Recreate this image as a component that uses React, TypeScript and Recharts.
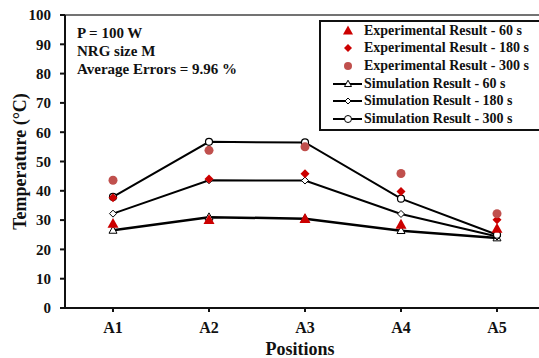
import { ComposedChart, Line, XAxis, YAxis, ReferenceLine } from "recharts";

const positions = ["A1", "A2", "A3", "A4", "A5"];
const yTicks = [0, 10, 20, 30, 40, 50, 60, 70, 80, 90, 100];

const exp60 = [28.7, 30.0, 30.4, 28.4, 27.0];
const exp180 = [37.6, 44.0, 45.8, 39.8, 30.1];
const exp300 = [43.6, 53.8, 55.0, 45.9, 32.2];
const sim60 = [26.5, 31.0, 30.5, 26.4, 23.9];
const sim180 = [32.2, 43.6, 43.5, 32.1, 24.4];
const sim300 = [37.9, 56.7, 56.5, 37.3, 25.0];

const notes = ["P = 100 W", "NRG size M", "Average Errors = 9.96 %"];

const data = positions.map((p, i) => ({
  pos: p,
  exp60: exp60[i],
  exp180: exp180[i],
  exp300: exp300[i],
  sim60: sim60[i],
  sim180: sim180[i],
  sim300: sim300[i]
}));

const FONT = "'Liberation Serif', 'Times New Roman', serif";
const RED = "#cc0000";
const BROWN = "#c0504d";

type Shape = "triangle" | "diamond" | "circle";

function marker(shape: Shape, x: number, y: number, size: number, fill: string, stroke: string, sw: number, key?: string) {
  if (shape === "triangle") {
    const h = size * 0.9;
    return (
      <polygon
        key={key}
        points={`${x},${y - h * 0.6} ${x - size / 2},${y + h * 0.4} ${x + size / 2},${y + h * 0.4}`}
        fill={fill}
        stroke={stroke}
        strokeWidth={sw}
      />
    );
  }
  if (shape === "diamond") {
    const r = size / 2;
    return (
      <polygon
        key={key}
        points={`${x},${y - r} ${x + r},${y} ${x},${y + r} ${x - r},${y}`}
        fill={fill}
        stroke={stroke}
        strokeWidth={sw}
      />
    );
  }
  return <circle key={key} cx={x} cy={y} r={size / 2} fill={fill} stroke={stroke} strokeWidth={sw} />;
}

const dotFn = (shape: Shape, size: number, fill: string, stroke: string, sw: number) => (props: any) => {
  const { cx, cy, index } = props;
  if (cx == null || cy == null) return <g key={`n${index}`} />;
  return marker(shape, cx, cy, size, fill, stroke, sw, `${shape}-${index}-${fill}`);
};

const legendItems = [
  { name: "Experimental Result - 60 s", shape: "triangle" as Shape, fill: RED, stroke: "none", line: false, size: 10 },
  { name: "Experimental Result - 180 s", shape: "diamond" as Shape, fill: RED, stroke: "none", line: false, size: 8 },
  { name: "Experimental Result - 300 s", shape: "circle" as Shape, fill: BROWN, stroke: "none", line: false, size: 8 },
  { name: "Simulation Result - 60 s", shape: "triangle" as Shape, fill: "#fff", stroke: "#000", line: true, size: 7 },
  { name: "Simulation Result - 180 s", shape: "diamond" as Shape, fill: "#fff", stroke: "#000", line: true, size: 6 },
  { name: "Simulation Result - 300 s", shape: "circle" as Shape, fill: "#fff", stroke: "#000", line: true, size: 7 }
];

function LegendBox() {
  return (
    <div
      style={{
        position: "absolute",
        left: 319,
        top: 20,
        border: "2px solid #111",
        background: "#fff",
        width: 232,
        padding: "0 0 1px 0",
        fontFamily: FONT,
        fontWeight: "bold",
        fontSize: 14,
        color: "#111"
      }}
    >
      {legendItems.map((it) => (
        <div key={it.name} style={{ display: "flex", alignItems: "center", height: 17.6 }}>
          <svg width={43} height={16} style={{ flex: "none" }}>
            {it.line ? <line x1={12} y1={8} x2={41} y2={8} stroke="#000" strokeWidth={2} /> : null}
            {marker(it.shape, 27, 8, it.size, it.fill, it.stroke, 1)}
          </svg>
          <span style={{ whiteSpace: "nowrap" }}>{it.name}</span>
        </div>
      ))}
    </div>
  );
}

export default function App() {
  return (
    <div style={{ position: "absolute", left: 0, top: 0, width: 539, height: 358, overflow: "hidden", background: "#fff" }}>
      <ComposedChart width={560} height={358} data={data} margin={{ top: 15, right: 15, bottom: 0, left: 0 }}>
        <XAxis
          dataKey="pos"
          height={50}
          padding={{ left: 48, right: 48 }}
          stroke="#111"
          strokeWidth={2}
          tickSize={4}
          tickMargin={10}
          tick={{ fill: "#111", fontFamily: FONT, fontWeight: "bold", fontSize: 16 }}
          label={{ value: "Positions", position: "insideBottom", offset: 3, dx: -5, fill: "#111", fontFamily: FONT, fontWeight: "bold", fontSize: 18 }}
        />
        <YAxis
          width={65}
          domain={[0, 100]}
          ticks={yTicks}
          interval={0}
          stroke="#111"
          strokeWidth={2}
          tickSize={5}
          tickMargin={9}
          tick={{ fill: "#111", fontFamily: FONT, fontWeight: "bold", fontSize: 15 }}
          label={{
            value: "Temperature  (°C)",
            angle: -90,
            position: "insideLeft",
            offset: 20,
            style: { textAnchor: "middle" },
            fill: "#111",
            fontFamily: FONT,
            fontWeight: "bold",
            fontSize: 18
          }}
        />
        <ReferenceLine y={100} stroke="#444" strokeWidth={1.5} />
        <Line dataKey="sim60" stroke="#000" strokeWidth={2.5} isAnimationActive={false} dot={dotFn("triangle", 8, "#fff", "#000", 1)} activeDot={false} />
        <Line dataKey="sim180" stroke="#000" strokeWidth={2} isAnimationActive={false} dot={dotFn("diamond", 7, "#fff", "#000", 1)} activeDot={false} />
        <Line dataKey="sim300" stroke="#000" strokeWidth={2} isAnimationActive={false} dot={dotFn("circle", 7, "#fff", "#000", 1.2)} activeDot={false} />
        <Line dataKey="exp60" stroke="none" isAnimationActive={false} dot={dotFn("triangle", 11, RED, "none", 0)} activeDot={false} />
        <Line dataKey="exp180" stroke="none" isAnimationActive={false} dot={dotFn("diamond", 9, RED, "none", 0)} activeDot={false} />
        <Line dataKey="exp300" stroke="none" isAnimationActive={false} dot={dotFn("circle", 9, BROWN, "none", 0)} activeDot={false} />
      </ComposedChart>
      <LegendBox />
      <div
        style={{
          position: "absolute",
          left: 77,
          top: 24,
          fontFamily: FONT,
          fontWeight: "bold",
          fontSize: 15,
          lineHeight: "18px",
          color: "#111"
        }}
      >
        {notes.map((n) => (
          <div key={n}>{n}</div>
        ))}
      </div>
    </div>
  );
}
